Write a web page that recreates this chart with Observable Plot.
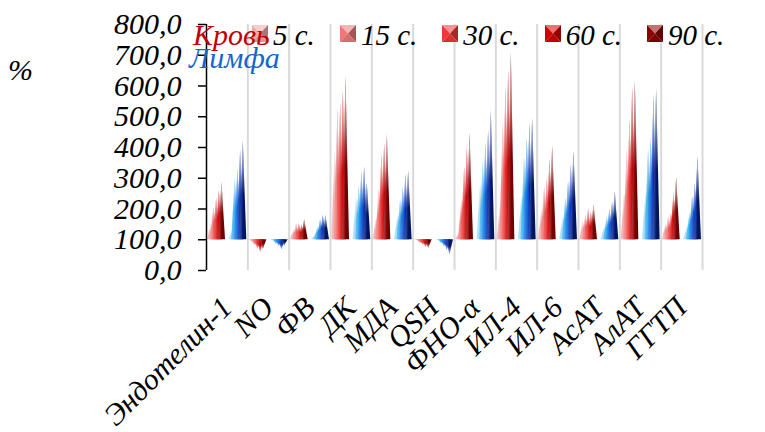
<!DOCTYPE html>
<html><head><meta charset="utf-8">
<script src="https://cdn.jsdelivr.net/npm/d3@7"></script>
<script src="https://cdn.jsdelivr.net/npm/@observablehq/plot@0.6"></script>
<style>
body{margin:0;background:#fff;}
#wrap{position:relative;width:765px;height:432px;font-family:"Liberation Serif","Times New Roman",serif;font-style:italic;}
.t{position:absolute;white-space:nowrap;line-height:1;z-index:2;}
#legend{position:absolute;left:252px;top:19px;display:flex;align-items:flex-start;font-size:29px;z-index:1;}
#legend .item{display:flex;align-items:flex-start;margin-right:25px;}
#legend svg{margin-top:6px;margin-right:5px;}
</style></head><body>
<div id="wrap"></div>
<script>
const categories = ["Эндотелин-1","NO","ФВ","ДК","МДА","QSH","ФНО-α","ИЛ-4","ИЛ-6","АсАТ","АлАТ","ГГТП"];
const seriesLabels = ["5 с.","15 с.","30 с.","60 с.","90 с."];
const groupLabels = ["Кровь","Лимфа"];
const yTicks = [0,100,200,300,400,500,600,700,800];
// Кровь
const blood5  = [150, 92,130,390,170, 97,120,210,195,160,250,150];
const blood15 = [205, 80,150,525,265, 88,228,478,270,180,390,172];
const blood30 = [235, 70,152,545,380, 82,335,597,300,200,490,185];
const blood60 = [260, 60,148,585,412, 76,400,650,360,188,595,250];
const blood90 = [285, 68,165,630,442, 72,448,708,405,213,618,303];
// Лимфа
const lymph5  = [130, 95,115,235,175, 97,280,240,175,140,250,140];
const lymph15 = [300, 85,140,275,228, 87,355,365,235,175,395,185];
const lymph30 = [330, 78,165,320,270, 77,415,432,290,200,430,240];
const lymph60 = [390, 68,180,337,312, 66,455,478,345,222,570,282];
const lymph90 = [420, 80,178,285,323, 52,520,494,388,255,590,370];

const bloodColors = ["#f2a8a8","#ee7878","#f03838","#d40000","#8a0000"];
const lymphColors = ["#9fdcf5","#33b0f0","#0a74e4","#0036c4","#001a78"];
const groupColors = ["#c00000","#1466cc"];

const groups = [
  {values:[blood5,blood15,blood30,blood60,blood90], colors:bloodColors},
  {values:[lymph5,lymph15,lymph30,lymph60,lymph90], colors:lymphColors}
];

// gradient defs
const NS = "http://www.w3.org/2000/svg";
const defsSvg = document.createElementNS(NS,"svg");
defsSvg.setAttribute("width","0");defsSvg.setAttribute("height","0");
defsSvg.style.position="absolute";
let defs = "<defs>";
groups.forEach((g,gi)=>g.colors.forEach((c,si)=>{
  const l = d3.interpolateRgb(c,"#ffffff")(0.3);
  const d1 = d3.rgb(c).darker(0.4).formatHex();
  const d2 = d3.rgb(c).darker(0.9).formatHex();
  defs += `<linearGradient id="g${gi}${si}" x1="0" y1="0" x2="1" y2="0">
    <stop offset="0" stop-color="${l}"/><stop offset="0.5" stop-color="${c}"/>
    <stop offset="0.5" stop-color="${d1}"/><stop offset="1" stop-color="${d2}"/></linearGradient>`;
}));
defs += `<linearGradient id="fadeUp" x1="0" y1="1" x2="0" y2="0">
  <stop offset="0" stop-color="#fff" stop-opacity="0"/><stop offset="0.45" stop-color="#fff" stop-opacity="0"/>
  <stop offset="1" stop-color="#fff" stop-opacity="0.85"/></linearGradient>
  <linearGradient id="fadeDown" x1="0" y1="0" x2="0" y2="1">
  <stop offset="0" stop-color="#fff" stop-opacity="0"/><stop offset="0.45" stop-color="#fff" stop-opacity="0"/>
  <stop offset="1" stop-color="#fff" stop-opacity="0.7"/></linearGradient></defs>`;
defsSvg.innerHTML = defs;
document.body.appendChild(defsSvg);

// layout within each category band (band = 1 unit)
const groupStart = [0.03, 0.545];
const hw = 0.085, step = 0.065;

const barMarks = [];
groups.forEach((g,gi)=>g.values.forEach((vals,si)=>{
  const pts = [];
  vals.forEach((v,ci)=>{
    const x0 = ci + groupStart[gi] + si*step;
    const up = v >= 100;
    pts.push({c:ci,x:x0,y:100,up},{c:ci,x:x0+hw,y:v,up},{c:ci,x:x0+2*hw,y:100,up});
  });
  barMarks.push(Plot.areaY(pts,{x:"x",y1:100,y2:"y",z:"c",fill:`url(#g${gi}${si})`}));
  barMarks.push(Plot.areaY(pts.filter(d=>d.up),{x:"x",y1:100,y2:"y",z:"c",fill:"url(#fadeUp)"}));
  barMarks.push(Plot.areaY(pts.filter(d=>!d.up),{x:"x",y1:100,y2:"y",z:"c",fill:"url(#fadeDown)"}));
}));

const chart = Plot.plot({
  width:765, height:432,
  marginLeft:206, marginRight:63, marginTop:24, marginBottom:162,
  x:{domain:[0,12], axis:null},
  y:{domain:[0,800], axis:null},
  style:{fontFamily:'"Liberation Serif","Times New Roman",serif', fontStyle:"italic", color:"#000", background:"#fff"},
  marks:[
    Plot.ruleX(d3.range(1,13),{y1:0,y2:800,stroke:"#d9d9d9",strokeWidth:2}),
    ...barMarks,
    Plot.ruleX([0],{y1:0,y2:800,stroke:"#000",strokeWidth:1.5}),
    Plot.axisY(yTicks,{label:null,tickSize:8,tickPadding:17,strokeWidth:1.5,fontSize:30,
      tickFormat:d=>d.toFixed(1).replace(".",",")}),
    Plot.axisX(categories.map((c,i)=>i+0.5),{label:null,tickSize:0,tickPadding:32,tickRotate:-45,fontSize:30,
      tickFormat:d=>categories[Math.floor(d)]})
  ]
});
const wrap = document.getElementById("wrap");
wrap.appendChild(chart);

const leg=document.createElement("div");leg.id="legend";
seriesLabels.forEach((lab,si)=>{
  const c=bloodColors[si];
  const lt=d3.interpolateRgb(c,"#fff")(0.45), dk=d3.rgb(c).darker(1).formatHex(), md=d3.rgb(c).darker(0.3).formatHex();
  const it=document.createElement("div");it.className="item";
  it.innerHTML=`<svg width="16" height="17" viewBox="0 0 16 17">
   <path d="M0,0L16,0L8,8.5Z" fill="${lt}"/><path d="M0,0L0,17L8,8.5Z" fill="${c}"/>
   <path d="M16,0L16,17L8,8.5Z" fill="${dk}"/><path d="M0,17L16,17L8,8.5Z" fill="${md}"/></svg><span>${lab}</span>`;
  leg.appendChild(it);
});
wrap.appendChild(leg);

// overlay texts
function addText(txt,left,top,size,color){
  const d=document.createElement("div");d.className="t";d.textContent=txt;
  d.style.left=left+"px";d.style.top=top+"px";d.style.fontSize=size+"px";d.style.color=color;
  wrap.appendChild(d);
}
addText("%",8,55,30,"#000");
addText(groupLabels[0],193,20,30,groupColors[0]);
addText(groupLabels[1],189,43,30,groupColors[1]);
</script>
</body></html>
